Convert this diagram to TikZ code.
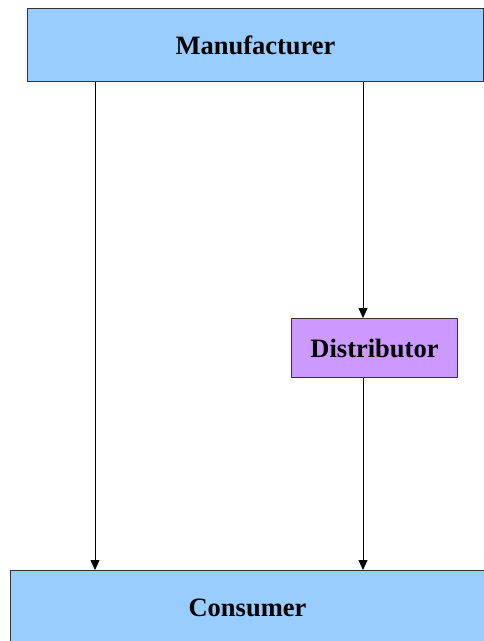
\documentclass[tikz,border=0pt]{standalone}
\usepackage{fontspec}
\setmainfont{Liberation Serif}
\usetikzlibrary{arrows.meta}
\definecolor{BoxBlue}{HTML}{99CCFF}
\definecolor{BoxPurple}{HTML}{CC99FF}

\begin{document}
\begin{tikzpicture}[
  x=1pt, y=-1pt,
  font=\fontsize{26.5}{30}\selectfont\bfseries,
  block/.style={draw=black!80, line width=1pt, fill=BoxBlue, inner sep=0pt,
                anchor=north west, minimum height=73pt},
  flow/.style={-{Triangle[length=10pt, width=9pt]}, line width=0.8pt, draw=black}
]
\useasboundingbox (0,0) rectangle (483,641);

\node[block, minimum width=456pt] (manu) at (27,8) {Manufacturer};
\node[block, minimum width=474pt, minimum height=74pt] (cons) at (10,570) {Consumer};
\node[block, fill=BoxPurple, minimum width=166pt, minimum height=59pt] (dist) at (291,318)
  {Distributor};

% boxes run past the right edge of the page
\draw[draw=none, fill=BoxBlue] (manu.north east) ++(0,0.5) rectangle ++(8,72);
\draw[draw=none, fill=BoxBlue] (cons.north east) ++(0,0.5) rectangle ++(8,73);

% arrow columns
\coordinate (lx) at (95,0);
\coordinate (rx) at (363,0);

\draw[flow] (manu.south -| lx) -- (cons.north -| lx);
\draw[flow] (manu.south -| rx) -- (dist.north -| rx);
\draw[flow] (dist.south -| rx) -- (cons.north -| rx);

\end{tikzpicture}
\end{document}
